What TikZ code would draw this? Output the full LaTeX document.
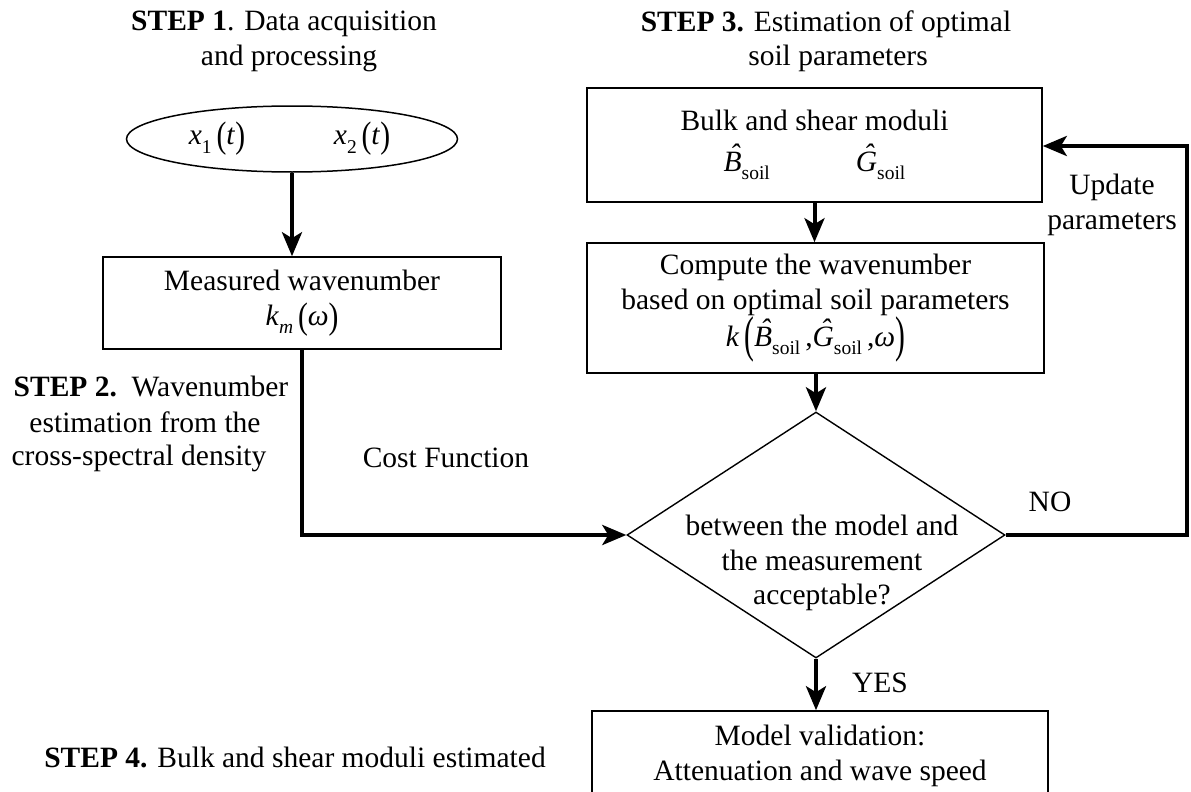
\documentclass[tikz,border=0pt]{standalone}
\usepackage{fontspec}
\setmainfont{Liberation Serif}
\usetikzlibrary{arrows.meta,shapes.geometric}
\newcommand{\sbx}[1]{\raisebox{-0.28em}{\fontsize{19.5}{19.5}\selectfont #1}}
\newcommand{\pL}[2]{\raisebox{#2}{\scalebox{1}[#1]{(}}}
\newcommand{\pR}[2]{\raisebox{#2}{\scalebox{1}[#1]{)}}}
\newcommand{\hatL}[2]{\textit{\makebox[0pt][l]{\hspace{#2}\raisebox{0.22em}{ˆ}}#1}}
\newcommand{\hatB}{\hatL{B}{0.2em}}
\newcommand{\hatG}{\hatL{G}{0.26em}}
\begin{document}
\begin{tikzpicture}[x=1pt,y=-1pt,
  every node/.style={font=\fontsize{29.5}{34.5}\selectfont, inner sep=0pt},
  box/.style={draw, line width=1.6pt, rectangle, align=center},
  ell/.style={draw, line width=1.5pt, ellipse},
  conn/.style={line width=4pt, -{Stealth[length=24pt,width=20pt,inset=6pt]}}]
\useasboundingbox (0,0) rectangle (1191,792);
\clip (0,0) rectangle (1191,792);

% titles
\node (s1a) at (284,24) {\textbf{STEP 1}. Data acquisition};
\node (s1b) at (289,58) {and processing};
\node (s3a) at (826,24) {\textbf{STEP 3.} Estimation of optimal};
\node (s3b) at (838,58) {soil parameters};

% left column
\node[ell, minimum width=331pt, minimum height=66pt] (ell) at (292,139) {};
\node (x1) at (217,139) {\textit{x}\sbx{1}\,\pL{1.25}{-0.1em}\textit{t}\pR{1.25}{-0.1em}};
\node (x2) at (362,139) {\textit{x}\sbx{2}\,\pL{1.25}{-0.1em}\textit{t}\pR{1.25}{-0.1em}};

\node[box, minimum width=398pt, minimum height=92pt] (meas) at (302,303)
  {Measured wavenumber\\ \textit{k}\sbx{\textit{m}}\,\pL{1.25}{-0.1em}\textit{ω}\pR{1.25}{-0.1em}};

\node (s2a) at (151,386) {\textbf{STEP 2.}\ \ Wavenumber};
\node (s2b) at (145,422) {estimation from the};
\node (s2c) at (139,458) {cross-spectral density};
\node (cost) at (446,458) {Cost Function};

% right column
\node[box, minimum width=455pt, minimum height=114pt] (bulk) at (814.5,145)
  {Bulk and shear moduli\\[6pt] \hatB\sbx{soil}\hspace{86pt}\hatG\sbx{soil}};

\node[box, minimum width=457pt, minimum height=130pt] (comp) at (815.5,308)
  {Compute the wavenumber\\based on optimal soil parameters\\
   \textit{k}\,\pL{1.7}{-0.17em}\hatB\sbx{soil}\,,\hatG\sbx{soil}\,,\textit{ω}\pR{1.7}{-0.17em}};

\node[diamond, draw, line width=1.4pt, minimum width=378pt, minimum height=246pt] (dia) at (816,535) {};
\node[align=center] (dtext) at (822,563) {between the model and\\the measurement\\acceptable?};

\node[box, minimum width=456pt, minimum height=90pt] (val) at (820,756)
  {Model validation:\\Attenuation and wave speed};

\node (s4) at (295,757) {\textbf{STEP 4.} Bulk and shear moduli estimated};

% labels
\node (no) at (1050,502) {NO};
\node (yes) at (880,683) {YES};
\node[align=center] (upd) at (1112,205) {Update\\parameters};

% connectors
\coordinate (c1) at (1187,146);
\draw[conn] (ell.south) -- (ell.south |- meas.north);
\draw[conn] (meas.south) |- (dia.west);
\draw[conn] (bulk.south) -- (bulk.south |- comp.north);
\draw[conn] (comp.south -| dia.north) -- (dia.north);
\draw[conn] (dia.east) -| (c1) -- (c1 -| bulk.east);
\draw[conn] (dia.south) -- (dia.south |- val.north);
\end{tikzpicture}
\end{document}
